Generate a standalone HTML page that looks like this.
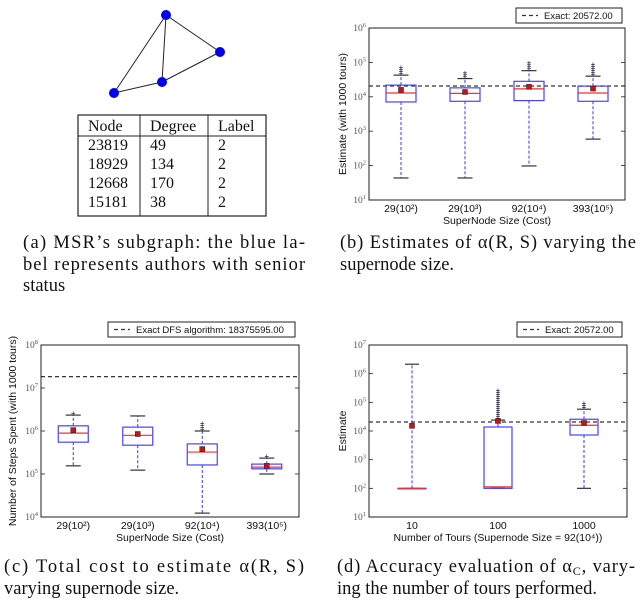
<!DOCTYPE html>
<html><head><meta charset="utf-8"><style>
body{margin:0;background:#fff;}
svg{display:block;}
.cap{font-family:"Liberation Serif",serif;font-size:18.5px;fill:#111;}
.tb{font-family:"Liberation Serif",serif;font-size:16px;fill:#111;}
.ax{font-family:"Liberation Sans",sans-serif;font-size:10.5px;fill:#111;}
.lg{font-family:"Liberation Sans",sans-serif;font-size:9.5px;fill:#111;}
.tk{font-family:"Liberation Serif",serif;font-size:9.5px;fill:#555;}
</style></head><body>
<svg id="fig" width="640" height="601" viewBox="0 0 640 601" xmlns="http://www.w3.org/2000/svg">
<g stroke="#222" stroke-width="1">
<line x1="166" y1="15" x2="220" y2="52"/><line x1="166" y1="15" x2="162" y2="82"/><line x1="166" y1="15" x2="114" y2="93"/>
<line x1="220" y1="52" x2="162" y2="82"/><line x1="162" y1="82" x2="114" y2="93"/>
<circle cx="166" cy="15" r="5" fill="#0000ee" stroke="none"/>
<circle cx="220" cy="52" r="5" fill="#0000ee" stroke="none"/>
<circle cx="162" cy="82" r="5" fill="#0000ee" stroke="none"/>
<circle cx="114" cy="93" r="5" fill="#0000ee" stroke="none"/>
</g>
<g>
<rect x="78" y="115" width="188" height="101" fill="none" stroke="#222" stroke-width="1.2"/>
<line x1="78" y1="136" x2="266" y2="136" stroke="#222"/><line x1="140" y1="115" x2="140" y2="216" stroke="#222"/><line x1="208" y1="115" x2="208" y2="216" stroke="#222"/>
<text class="tb" x="88" y="131">Node</text><text class="tb" x="150" y="131">Degree</text><text class="tb" x="218" y="131">Label</text>
<text class="tb" x="88" y="150">23819</text><text class="tb" x="150" y="150">49</text><text class="tb" x="218" y="150">2</text>
<text class="tb" x="88" y="169">18929</text><text class="tb" x="150" y="169">134</text><text class="tb" x="218" y="169">2</text>
<text class="tb" x="88" y="188">12668</text><text class="tb" x="150" y="188">170</text><text class="tb" x="218" y="188">2</text>
<text class="tb" x="88" y="207">15181</text><text class="tb" x="150" y="207">38</text><text class="tb" x="218" y="207">2</text>
</g>
<g>
<text class="cap" x="23" y="248" textLength="282">(a) MSR’s subgraph: the blue la-</text>
<text class="cap" x="23" y="270" textLength="282">bel represents authors with senior</text>
<text class="cap" x="23" y="291">status</text>
<text class="cap" x="340" y="248" textLength="296">(b)  Estimates of α(R, S) varying the</text>
<text class="cap" x="340" y="270">supernode size.</text>
<text class="cap" x="4" y="572" textLength="300">(c)  Total cost to estimate α(R, S)</text>
<text class="cap" x="4" y="594">varying supernode size.</text>
<text class="cap" x="337" y="572" textLength="298">(d)  Accuracy evaluation of α<tspan font-size="12" dy="3">C</tspan><tspan dy="-3">, vary-</tspan></text>
<text class="cap" x="337" y="594">ing the number of tours performed.</text>
</g>
</svg>
<script>
// Panel b data (log10 values)
const bCats=["29(10²)","29(10³)","92(10⁴)","393(10⁵)"];
const bQ1=[3.85,3.87,3.89,3.87];
const bQ3=[4.34,4.26,4.45,4.31];
const bMed=[4.11,4.10,4.23,4.11];
const bMean=[4.20,4.14,4.29,4.24];
const bLow=[1.64,1.64,1.99,2.77];
const bHigh=[4.63,4.53,4.76,4.60];
const bOutMax=[4.87,4.76,5.04,5.00];
const bTicks=[1,2,3,4,5,6];
const bExact=[20572];
// Panel c data
const cCats=["29(10²)","29(10³)","92(10⁴)","393(10⁵)"];
const cQ1=[5.74,5.67,5.21,5.12];
const cQ3=[6.12,6.09,5.70,5.23];
const cMed=[5.95,5.90,5.51,5.16];
const cMean=[6.02,5.93,5.58,5.19];
const cLow=[5.19,5.09,4.09,5.00];
const cHigh=[6.37,6.35,6.00,5.37];
const cOutMax=[6.44,6.35,6.19,5.42];
const cTicks=[4,5,6,7,8];
const cExact=[18375595];
// Panel d data
const dCats=["10","100","1000"];
const dQ1=[2.0,2.0,3.86];
const dQ3=[2.0,4.14,4.41];
const dMed=[2.0,2.05,4.20];
const dMean=[4.18,4.35,4.28];
const dLow=[2.0,2.0,2.0];
const dHigh=[6.33,4.38,4.76];
const dOutMax=[6.33,5.46,4.97];
const dTicks=[1,2,3,4,5,6,7];
const dExact=[20572];

const NS="http://www.w3.org/2000/svg";
const svg=document.getElementById('fig');
function mk(tag,at,parent){const e=document.createElementNS(NS,tag);for(const k in at)e.setAttribute(k,at[k]);(parent||svg).appendChild(e);return e;}

function panel(o){
  const g=mk('g',{});
  
  
  const {x0,x1,y0,y1,ymin,ymax}=o;
  const ys=v=>y1-(v-ymin)/(ymax-ymin)*(y1-y0);
  const n=o.cats.length, step=(x1-x0)/n;
  const xs=i=>x0+step*(i+0.5);
  o.ticks.forEach(t=>{
    const y=ys(t);
    mk('line',{x1:x0,y1:y,x2:x0+4,y2:y,stroke:'#222','stroke-width':0.8},g);
    mk('line',{x1:x1,y1:y,x2:x1-4,y2:y,stroke:'#222','stroke-width':0.8},g);
    const tx=mk('text',{x:x0-3,y:y+3,'text-anchor':'end',class:'tk'},g);
    
    
    tx.innerHTML='10<tspan font-size="6.5" dy="-4">'+t+'</tspan>';
  });
  const ey=ys(Math.log10(o.exact[0]));
  const el=mk('line',{x1:x0,y1:ey,x2:x1,y2:ey,stroke:'#333','stroke-width':1.2,'stroke-dasharray':'4,3'},g);
  
  
  for(let i=0;i<n;i++){
    const cx=xs(i), hw=o.hw;
    const bg=mk('g',{},g);
    
    
    mk('line',{x1:cx,y1:ys(o.q3[i]),x2:cx,y2:ys(o.high[i]),stroke:'#3333ff','stroke-dasharray':'3,2','stroke-width':1},bg);
    mk('line',{x1:cx,y1:ys(o.q1[i]),x2:cx,y2:ys(o.low[i]),stroke:'#3333ff','stroke-dasharray':'3,2','stroke-width':1},bg);
    mk('line',{x1:cx-hw/2,y1:ys(o.high[i]),x2:cx+hw/2,y2:ys(o.high[i]),stroke:'#333','stroke-width':1.2},bg);
    mk('line',{x1:cx-hw/2,y1:ys(o.low[i]),x2:cx+hw/2,y2:ys(o.low[i]),stroke:'#333','stroke-width':1.2},bg);
    mk('rect',{x:cx-hw,y:ys(o.q3[i]),width:2*hw,height:Math.max(0.5,ys(o.q1[i])-ys(o.q3[i])),fill:'none',stroke:'#4444ff','stroke-width':1.2},bg);
    mk('line',{x1:cx-hw,y1:ys(o.med[i]),x2:cx+hw,y2:ys(o.med[i]),stroke:'#ee3333','stroke-width':1.2},bg);
    if(o.outMax[i]>o.high[i]){
      const ya=ys(o.high[i]), yb=ys(o.outMax[i]);
      for(let y=ya-2;y>=yb;y-=2){mk('text',{x:cx,y:y+3,'text-anchor':'middle','font-size':8,fill:'#111133','font-family':'Liberation Sans'},bg).textContent='+';}
    }
    mk('rect',{x:cx-2.5,y:ys(o.mean[i])-2.5,width:5,height:5,fill:'#cc1111',stroke:'#222','stroke-width':0.5},bg);
    const lb=mk('text',{x:cx,y:y1+12,'text-anchor':'middle',class:'ax'},g);
    
    
    lb.textContent=o.cats[i];
  }
  mk('rect',{x:x0,y:y0,width:x1-x0,height:y1-y0,fill:'none',stroke:'#222','stroke-width':1},g);
  const xl=mk('text',{x:(x0+x1)/2,y:y1+24,'text-anchor':'middle',class:'ax'},g);
  
  
  xl.textContent=o.xlabel;
  const yl=mk('text',{x:0,y:0,'text-anchor':'middle',class:'ax',transform:`translate(${o.ylx},${(y0+y1)/2}) rotate(-90)`},g);
  
  
  yl.textContent=o.ylabel;
  const lg=mk('g',{},g);
  
  
  mk('rect',{x:o.lx0,y:o.ly,width:o.lx1-o.lx0,height:15,fill:'#fff',stroke:'#222','stroke-width':1},lg);
  mk('line',{x1:o.lx0+6,y1:o.ly+7.5,x2:o.lx0+22,y2:o.ly+7.5,stroke:'#333','stroke-width':1.2,'stroke-dasharray':'4,3'},lg);
  mk('text',{x:o.lx0+28,y:o.ly+11,class:'lg'},lg).textContent=o.legend;
}
panel({name:'panel-b-chart',x0:369,x1:625,y0:28,y1:200,ymin:1,ymax:6,cats:bCats,q1:bQ1,q3:bQ3,med:bMed,mean:bMean,low:bLow,high:bHigh,outMax:bOutMax,ticks:bTicks,exact:bExact,hw:15,xlabel:'SuperNode Size (Cost)',ylabel:'Estimate (with 1000 tours)',ylx:346,lx0:516,lx1:622,ly:8,legend:'Exact: 20572.00'});
panel({name:'panel-c-chart',x0:41,x1:299,y0:345,y1:517,ymin:4,ymax:8,cats:cCats,q1:cQ1,q3:cQ3,med:cMed,mean:cMean,low:cLow,high:cHigh,outMax:cOutMax,ticks:cTicks,exact:cExact,hw:15,xlabel:'SuperNode Size (Cost)',ylabel:'Number of Steps Spent (with 1000 tours)',ylx:16,lx0:108,lx1:295,ly:322,legend:'Exact DFS algorithm: 18375595.00'});
panel({name:'panel-d-chart',x0:369,x1:627,y0:345,y1:517,ymin:1,ymax:7,cats:dCats,q1:dQ1,q3:dQ3,med:dMed,mean:dMean,low:dLow,high:dHigh,outMax:dOutMax,ticks:dTicks,exact:dExact,hw:14,xlabel:'Number of Tours (Supernode Size = 92(10⁴))',ylabel:'Estimate',ylx:346,lx0:517,lx1:622,ly:322,legend:'Exact: 20572.00'});
</script>
</body></html>
